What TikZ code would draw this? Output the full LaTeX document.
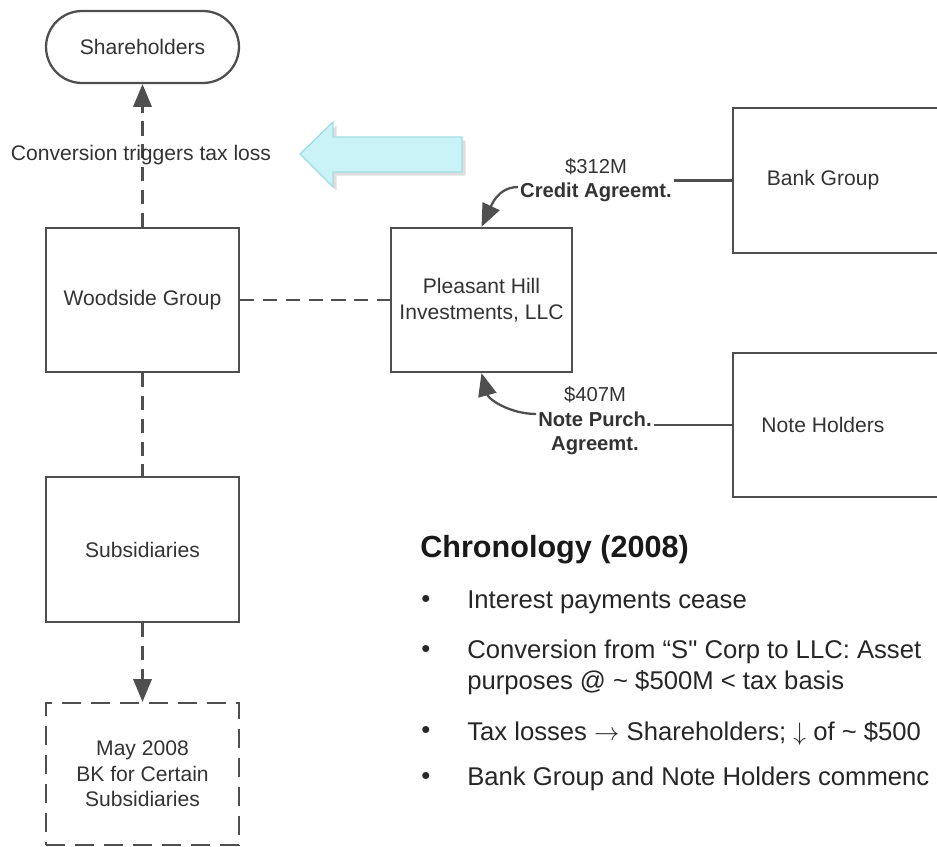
\documentclass[tikz,border=0pt]{standalone}
\usepackage{fontspec}
\setmainfont{Liberation Sans}
\usetikzlibrary{arrows.meta,shadows}
\definecolor{linegray}{HTML}{4F4F4F}
\definecolor{txtgray}{HTML}{333333}
\definecolor{aqua}{HTML}{C9F3F6}
\definecolor{aquaedge}{HTML}{A3DDE2}

\begin{document}
\begin{tikzpicture}[x=0.02cm, y=-0.02cm,
    every node/.style={text=txtgray, font=\fontsize{12}{14.5}\selectfont},
    box/.style={draw=linegray, line width=1.3pt, minimum width=3.86cm, minimum height=2.88cm, align=center},
    bkbox/.style={box, dash pattern=on 11pt off 5.5pt},
    conn/.style={draw=linegray, line width=1.3pt},
    dashconn/.style={conn, dash pattern=on 8pt off 5pt},
    endarrow/.style={-{Triangle[length=13pt, width=10.5pt]}},
    lbl/.style={align=center, inner sep=1pt, font=\fontsize{11.5}{14}\selectfont},
    chrono/.style={anchor=west, align=left, inner sep=0pt, text=black!85, font=\fontsize{14.6}{17.6}\selectfont}]
    \useasboundingbox (0,0) rectangle (937,846);
    \clip (0,0) rectangle (937,846);
    % boxes
    \node[box, rounded corners=0.72cm, minimum height=1.44cm] (share) at (142.5,47) {Shareholders};
    \node[box] (woodside) at (142.5,300) {Woodside Group};
    \node[box, minimum width=3.62cm] (pleasant) at (481.5,300) {Pleasant Hill\\Investments, LLC};
    \node[draw=linegray, line width=1.3pt, minimum width=4.4cm, minimum height=2.9cm] (bank) at (843,180.5) {Bank Group\hspace*{0.8cm}};
    \node[draw=linegray, line width=1.3pt, minimum width=4.4cm, minimum height=2.88cm] (notes) at (843,425) {Note Holders\hspace*{0.8cm}};
    \node[box, minimum height=2.9cm] (subs) at (142.5,549.5) {Subsidiaries};
    \node[bkbox, minimum height=2.84cm] (bk) at (142.5,774) {May 2008\\BK for Certain\\Subsidiaries};
    % dashed links
    \draw[dashconn, endarrow] (woodside.north) -- (share.south);
    \node (convlbl) at (141,155) {Conversion triggers tax loss};
    \draw[dashconn] (woodside.east) -- (pleasant.west);
    \draw[dashconn] (woodside.south) -- (subs.north);
    \draw[dashconn, endarrow] (subs.south) -- (bk.north);
    % lenders
    \node[lbl] (credit) at (596,180) {\$312M\\\textbf{Credit Agreemt.}};
    \node[lbl] (purch) at (595,421) {\$407M\\\textbf{Note Purch.}\\\textbf{Agreemt.}};
    \draw[conn] (bank.west) -- (bank.west -| credit.east);
    \draw[conn, endarrow] ([yshift=-4pt]credit.west) to[out=180, in=65] (pleasant.north);
    \draw[conn] (notes.west) -- (notes.west -| purch.east);
    \draw[conn, endarrow] ([yshift=4pt]purch.west) to[out=180, in=-75] (pleasant.south);
    % big arrow
    \filldraw[fill=aqua, draw=aquaedge, line width=0.8pt, drop shadow={opacity=0.25, shadow xshift=2pt, shadow yshift=-2pt}]
        (300,154) -- (333,122) -- (333,137) -- (462,137) -- (462,172) -- (333,172) -- (333,187) -- cycle;
    % chronology
    \node[chrono, text=black!90, font=\bfseries\fontsize{17.4}{20}\selectfont] (title) at (420,550) {Chronology (2008)};
    \node[chrono] (b1) at (421,602) {•};
    \node[chrono] (t1) at (467,602) {Interest payments cease};
    \node[chrono] (b2) at (421,652) {•};
    \node[chrono] (t2) at (467,667.5) {Conversion from “S\textquotedbl{} Corp to LLC: Asset\\purposes @ \textasciitilde{} \$500M < tax basis};
    \node[chrono] (b3) at (421,733) {•};
    \node[chrono] (t3) at (467,733) {Tax losses $\rightarrow$ Shareholders; $\downarrow$ of \textasciitilde{} \$500};
    \node[chrono] (b4) at (421,779) {•};
    \node[chrono] (t4) at (467,779) {Bank Group and Note Holders commenc};
\end{tikzpicture}
\end{document}
